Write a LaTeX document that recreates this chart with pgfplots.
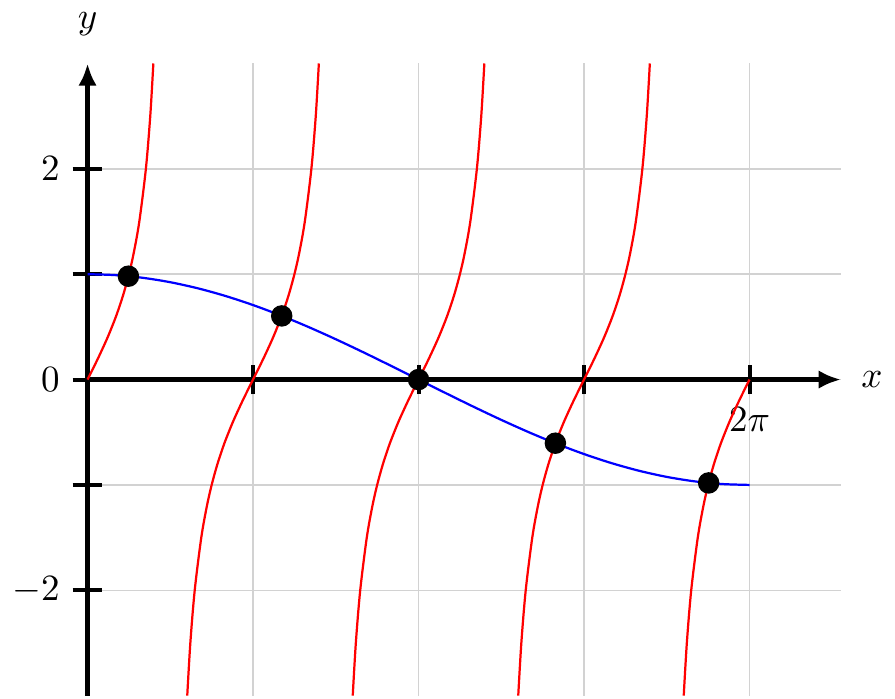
\documentclass[border=0pt]{standalone}
\usepackage{pgfplots}
\pgfplotsset{compat=1.18}
\usetikzlibrary{arrows.meta}
\begin{document}
\begin{tikzpicture}
\begin{axis}[
  x=1cm, y=1cm,
  axis lines=middle,
  xmin=0, xmax=7.15, ymin=-3, ymax=3,
  axis line style={line width=1.4pt, -{Latex[length=6pt,width=5pt]}},
  xtick={1.5708,3.1416,4.7124,6.2832},
  xticklabels={,,,$2\pi$},
  ytick={-2,-1,0,1,2},
  yticklabels={$-2$,,$0$,,$2$},
  hide obscured y ticks=false,
  hide obscured x ticks=false,
  tick align=center,
  major tick length=8pt,
  tick style={line width=1.1pt, black},
  grid=major,
  grid style={gray!35, line width=0.4pt},
  xlabel={$x$}, ylabel={$y$},
  every axis x label/.style={at={(current axis.right of origin)}, anchor=west, xshift=2pt},
  every axis y label/.style={at={(current axis.above origin)}, anchor=south, yshift=4pt},
  clip=false,
]
% blue: cos(x/2)
\addplot[blue, line width=0.6pt, smooth] coordinates {
(0,1) (0.2618,0.99144) (0.5236,0.96593) (0.7854,0.92388) (1.0472,0.86603) (1.3090,0.79335) (1.5708,0.70711) (1.8326,0.60876) (2.0944,0.5) (2.3562,0.38268) (2.6180,0.25882) (2.8798,0.13053) (3.1416,0) (3.4034,-0.13053) (3.6652,-0.25882) (3.9270,-0.38268) (4.1888,-0.5) (4.4506,-0.60876) (4.7124,-0.70711) (4.9742,-0.79335) (5.2360,-0.86603) (5.4978,-0.92388) (5.7596,-0.96593) (6.0214,-0.99144) (6.2832,-1)
};
% red: tan(2x) branches
\addplot[red, line width=0.6pt, smooth] coordinates {
(0,0) (0.09870,0.2) (0.19026,0.4) (0.27021,0.6) (0.33737,0.8) (0.39270,1) (0.43803,1.2) (0.49140,1.5) (0.55357,2) (0.59514,2.5) (0.62452,3)
};
\addplot[red, line width=0.6pt, smooth] coordinates {
(0.94628,-3) (0.97566,-2.5) (1.01723,-2) (1.07940,-1.5) (1.13277,-1.2) (1.17810,-1) (1.23343,-0.8) (1.30059,-0.6) (1.38054,-0.4) (1.47210,-0.2) (1.57080,0) (1.66950,0.2) (1.76106,0.4) (1.84101,0.6) (1.90817,0.8) (1.96350,1) (2.00883,1.2) (2.06220,1.5) (2.12437,2) (2.16594,2.5) (2.19532,3)
};
\addplot[red, line width=0.6pt, smooth] coordinates {
(2.51707,-3) (2.54645,-2.5) (2.58802,-2) (2.65019,-1.5) (2.70356,-1.2) (2.74889,-1) (2.80422,-0.8) (2.87138,-0.6) (2.95133,-0.4) (3.04289,-0.2) (3.14159,0) (3.24029,0.2) (3.33185,0.4) (3.41180,0.6) (3.47896,0.8) (3.53429,1) (3.57962,1.2) (3.63299,1.5) (3.69516,2) (3.73673,2.5) (3.76611,3)
};
\addplot[red, line width=0.6pt, smooth] coordinates {
(4.08787,-3) (4.11725,-2.5) (4.15882,-2) (4.22099,-1.5) (4.27436,-1.2) (4.31969,-1) (4.37502,-0.8) (4.44218,-0.6) (4.52213,-0.4) (4.61369,-0.2) (4.71239,0) (4.81109,0.2) (4.90265,0.4) (4.98260,0.6) (5.04976,0.8) (5.10509,1) (5.15042,1.2) (5.20379,1.5) (5.26596,2) (5.30753,2.5) (5.33691,3)
};
\addplot[red, line width=0.6pt, smooth] coordinates {
(5.65867,-3) (5.68805,-2.5) (5.72962,-2) (5.79179,-1.5) (5.84516,-1.2) (5.89049,-1) (5.94582,-0.8) (6.01298,-0.6) (6.09293,-0.4) (6.18449,-0.2) (6.28319,0)
};
% intersection points
\addplot[only marks, mark=*, mark size=2.7pt, black] coordinates {
(0.388,0.981) (1.843,0.604) (3.1416,0) (4.4405,-0.604) (5.895,-0.981)
};
\end{axis}
\end{tikzpicture}
\end{document}
